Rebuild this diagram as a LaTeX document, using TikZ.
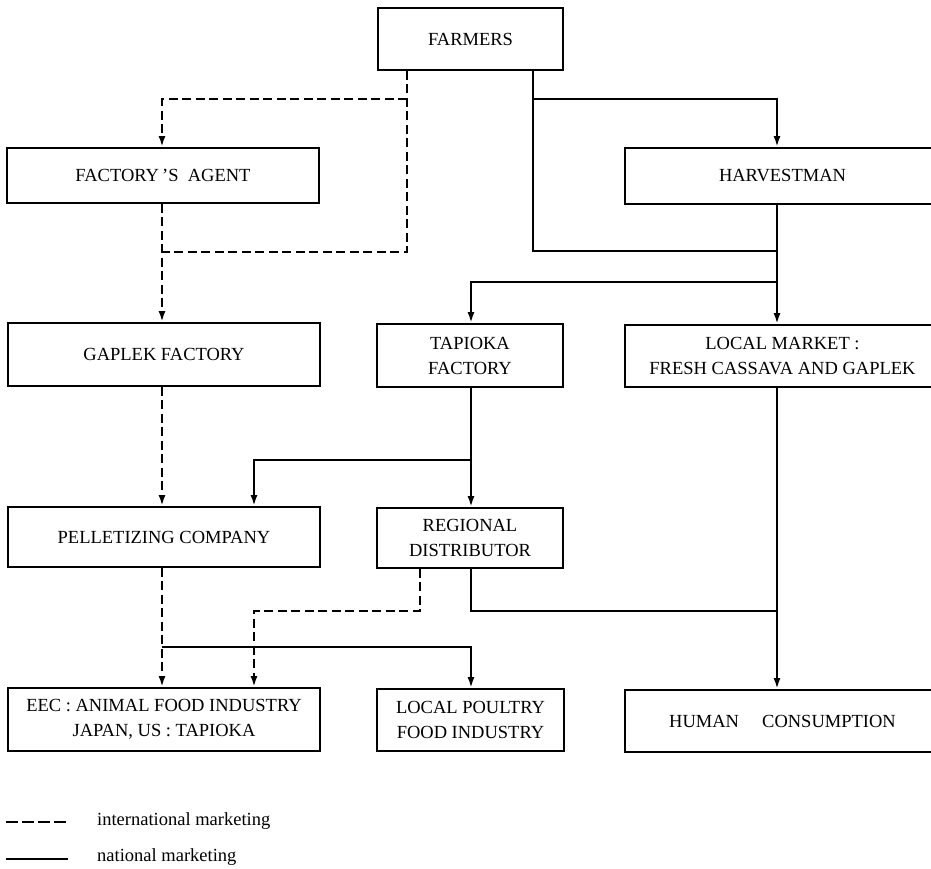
\documentclass[tikz,border=0pt]{standalone}
\usepackage{fontspec}
\setmainfont{Liberation Serif}
\usetikzlibrary{arrows.meta}
\begin{document}
\begin{tikzpicture}[x=1pt,y=-1pt,
  box/.style={draw, line width=1.8pt, rectangle, align=center, inner sep=0pt,
    font=\fontsize{18.5}{25}\selectfont},
  intl/.style={line width=2.2pt, dash pattern=on 9pt off 4.5pt},
  natl/.style={line width=2.2pt},
  tip/.style={-{Latex[length=11pt,width=7pt]}},
  legtext/.style={anchor=west, inner sep=0pt, font=\fontsize{18.5}{22}\selectfont}]
\useasboundingbox (0,0) rectangle (931,868);

% boxes
\node[box, minimum width=185pt, minimum height=62pt] (farmers) at (470.5,39) {FARMERS};
\node[box, minimum width=312pt, minimum height=55pt] (agent) at (163,175.5) {FACTORY\,'S\ \ AGENT};
\node[box, minimum width=315pt, minimum height=56pt] (harvest) at (782.5,176) {HARVESTMAN};
\node[box, minimum width=312pt, minimum height=63pt] (gaplek) at (164,354.5) {GAPLEK FACTORY};
\node[box, minimum width=186pt, minimum height=63pt] (tapioka) at (470,355.5) {TAPIOKA\\FACTORY};
\node[box, minimum width=315pt, minimum height=62pt] (market) at (782.5,356) {LOCAL MARKET :\\FRESH CASSAVA AND GAPLEK};
\node[box, minimum width=312pt, minimum height=60pt] (pellet) at (164,537) {PELLETIZING COMPANY};
\node[box, minimum width=186pt, minimum height=60pt] (regional) at (470,538) {REGIONAL\\DISTRIBUTOR};
\node[box, minimum width=312pt, minimum height=63pt] (eec) at (164,719.5) {EEC : ANIMAL FOOD INDUSTRY\\JAPAN, US : TAPIOKA};
\node[box, minimum width=187pt, minimum height=62pt] (poultry) at (470.5,720) {LOCAL POULTRY\\FOOD INDUSTRY};
\node[box, minimum width=315pt, minimum height=62pt] (human) at (782.5,721) {HUMAN\quad\ CONSUMPTION};

% bend points of the connectors
\coordinate (fa1) at (407,99);  \coordinate (fa2) at (407,252);
\coordinate (ag1) at (162,99);  \coordinate (ag2) at (162,252);
\coordinate (fs1) at (533,99);  \coordinate (fs2) at (533,251);
\coordinate (hv1) at (777,99);  \coordinate (hv2) at (777,251);
\coordinate (hv3) at (777,282); \coordinate (tp1) at (471,282);
\coordinate (tp2) at (471,460); \coordinate (pl1) at (254,460);
\coordinate (rd1) at (420,611); \coordinate (ec1) at (254,611);
\coordinate (pp0) at (162,647); \coordinate (pp1) at (471,647);
\coordinate (rd2) at (471,611); \coordinate (hm1) at (777,611);

% international marketing (dashed)
\draw[intl] (farmers.south -| fa1) -- (fa2) -- (ag2);
\draw[intl,tip] (fa1) -- (ag1) -- (agent.north -| ag1);
\draw[intl,tip] (agent.south -| ag1) -- (gaplek.north -| ag1);
\draw[intl,tip] (gaplek.south -| ag1) -- (pellet.north -| ag1);
\draw[intl,tip] (pellet.south -| ag1) -- (eec.north -| ag1);
\draw[intl,tip] (regional.south -| rd1) -- (rd1) -- (ec1) -- (eec.north -| ec1);

% national marketing (solid)
\draw[natl] (farmers.south -| fs1) -- (fs2) -- (hv2);
\draw[natl,tip] (fs1) -- (hv1) -- (harvest.north -| hv1);
\draw[natl] (harvest.south -| hv1) -- (hv3);
\draw[natl,tip] (hv3) -- (tp1) -- (tapioka.north -| tp1);
\draw[natl,tip] (hv3) -- (market.north -| hv3);
\draw[natl,tip] (tapioka.south -| tp1) -- (regional.north -| tp1);
\draw[natl,tip] (tp2) -- (pl1) -- (pellet.north -| pl1);
\draw[natl,tip] (pp0) -- (pp1) -- (poultry.north -| pp1);
\draw[natl] (regional.south -| rd2) -- (rd2) -- (hm1);
\draw[natl,tip] (market.south -| hv3) -- (human.north -| hv3);

% legend
\coordinate (li0) at (6,822);  \coordinate (li1) at (68,822);
\coordinate (ln0) at (6,859);  \coordinate (ln1) at (68,859);
\draw[line width=2.6pt, dash pattern=on 12pt off 4pt] (li0) -- (li1);
\draw[line width=2.8pt] (ln0) -- (ln1);
\node[legtext] (lgi) at (97,821) {international marketing};
\node[legtext] (lgn) at (97,857) {national marketing};
\end{tikzpicture}
\end{document}
